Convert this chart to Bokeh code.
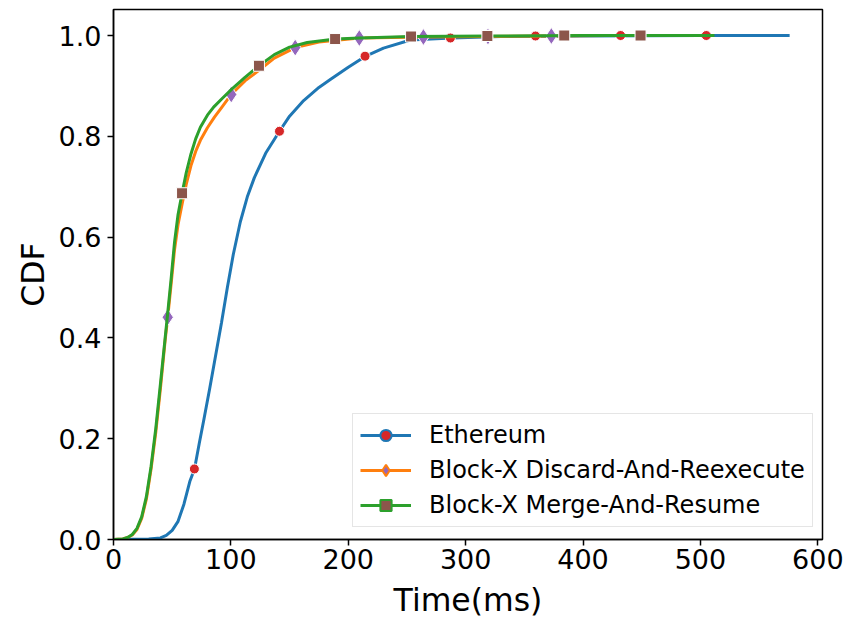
from bokeh.plotting import figure
from bokeh.models import Legend, LegendItem, FixedTicker
from bokeh.embed import file_html
from bokeh.resources import INLINE

# ---- data ----
eth_x = [0, 30, 40, 45, 50, 55, 60, 65, 69, 73, 77, 82, 87, 92, 97, 102, 108, 114, 120,
         130, 141.4, 150, 162, 175, 185, 200, 214, 230, 253, 288, 330, 400, 500, 576]
eth_y = [0, 0.001, 0.003, 0.008, 0.018, 0.036, 0.070, 0.115, 0.140, 0.19, 0.238, 0.30,
         0.365, 0.43, 0.50, 0.565, 0.63, 0.68, 0.718, 0.768, 0.810, 0.840, 0.871, 0.897,
         0.913, 0.937, 0.958, 0.975, 0.991, 0.995, 0.998, 0.999, 1.0, 1.0]

dar_x = [0, 8, 12, 16, 20, 24, 28, 32, 36, 40, 44, 46.2, 49, 52, 55, 59, 62, 66, 70, 74,
         80, 86, 93, 100.3, 112, 124.5, 137, 154.8, 175, 209.4, 264, 319, 373, 420]
dar_y = [0, 0.001, 0.004, 0.009, 0.020, 0.042, 0.080, 0.140, 0.212, 0.300, 0.395, 0.441,
         0.505, 0.575, 0.625, 0.672, 0.705, 0.742, 0.770, 0.792, 0.817, 0.838, 0.860,
         0.883, 0.910, 0.932, 0.955, 0.976, 0.987, 0.995, 0.997, 0.998, 0.999, 1.0]

mar_x = [0, 8, 12, 16, 20, 24, 28, 32, 36, 40, 44, 46, 49, 52, 55, 58.4, 62, 66, 70, 74,
         80, 85.3, 93, 101, 112, 124, 137, 150, 165, 189, 210, 253, 320, 400, 512]
mar_y = [0, 0.001, 0.004, 0.010, 0.022, 0.045, 0.085, 0.145, 0.220, 0.309, 0.400, 0.445,
         0.515, 0.590, 0.645, 0.687, 0.728, 0.765, 0.795, 0.818, 0.842, 0.858, 0.876,
         0.894, 0.917, 0.940, 0.962, 0.977, 0.986, 0.993, 0.995, 0.998, 0.999, 1.0, 1.0]

eth_mx = [68.9, 141.4, 214.3, 287, 359.5, 432, 505]
eth_my = [0.140, 0.810, 0.959, 0.995, 0.999, 1.0, 1.0]
dar_mx = [46.2, 100.3, 154.8, 209.4, 264, 319, 373]
dar_my = [0.441, 0.883, 0.976, 0.995, 0.997, 0.998, 0.999]
mar_mx = [58.4, 123.9, 188.8, 253.5, 318.5, 384, 449]
mar_my = [0.687, 0.940, 0.993, 0.998, 0.999, 1.0, 1.0]

labels = ["Ethereum", "Block-X Discard-And-Reexecute", "Block-X Merge-And-Resume"]
x_ticks = [0, 100, 200, 300, 400, 500, 600]
y_ticks = [0.0, 0.2, 0.4, 0.6, 0.8, 1.0]

FONT = "DejaVu Sans"
NAN = float("nan")

p = figure(width=849, height=621, x_range=(0, 604), y_range=(0, 1.0516),
           output_backend="svg", toolbar_location=None,
           min_border_left=113, min_border_right=27, min_border_top=9, min_border_bottom=82)
p.grid.visible = False
p.outline_line_color = "black"
p.outline_line_width = 1.5
p.background_fill_color = "white"
p.border_fill_color = "white"

for ax in (p.xaxis, p.yaxis):
    ax.axis_line_color = "black"
    ax.axis_line_width = 1.5
    ax.major_tick_line_width = 1.5
    ax.major_tick_out = 6
    ax.major_tick_in = 0
    ax.minor_tick_out = 0
    ax.minor_tick_in = 0
    ax.major_label_text_font = FONT
    ax.major_label_text_font_size = "27px"
    ax.major_label_text_color = "black"
    ax.axis_label_text_font = FONT
    ax.axis_label_text_font_size = "31.5px"
    ax.axis_label_text_font_style = "normal"
    ax.axis_label_text_color = "black"

p.xaxis.ticker = FixedTicker(ticks=x_ticks)
p.yaxis.ticker = FixedTicker(ticks=y_ticks)
p.yaxis.major_label_overrides = {t: f"{t:.1f}" for t in y_ticks}
p.xaxis.axis_label = "Time(ms)"
p.yaxis.axis_label = "CDF"
p.xaxis.major_label_standoff = 3
p.yaxis.major_label_standoff = 6
p.xaxis.axis_label_standoff = 10
p.yaxis.axis_label_standoff = 5

# (line x, line y, marker x, marker y, line colour, marker, marker colour, size, legend size)
series = [
    (eth_x, eth_y, eth_mx, eth_my, "#1f77b4", "circle", "#d62728", 10, 12),
    (dar_x, dar_y, dar_mx, dar_my, "#ff7f0e", "diamond", "#9467bd", 17, 19),
    (mar_x, mar_y, mar_mx, mar_my, "#2ca02c", "square", "#8c564b", 11, 12),
]

items = []
for (lx, ly, mx, my, lc, mk, mc, ms, lms), lab in zip(series, labels):
    p.line(lx, ly, line_color=lc, line_width=3)
    p.scatter(mx, my, marker=mk, size=ms, fill_color=mc, line_color="white", line_width=1)
    # legend handles: line + marker whose edge takes the line colour
    lr = p.line(x=[NAN], y=[NAN], line_color=lc, line_width=3)
    sr = p.scatter(x=[NAN], y=[NAN], marker=mk, size=lms, fill_color=mc,
                   line_color=lc, line_width=2)
    items.append(LegendItem(label=lab, renderers=[lr, sr], index=0))

legend = Legend(items=items, location=(239, 12), margin=0, padding=7,
                spacing=7, label_height=28, glyph_height=28, glyph_width=51,
                label_standoff=18,
                label_text_font=FONT, label_text_font_size="24px",
                label_text_color="black",
                border_line_color="#cccccc", border_line_width=1,
                background_fill_color="white", background_fill_alpha=0.8)
p.add_layout(legend, "center")

open("out.html", "w").write(file_html(p, INLINE))
